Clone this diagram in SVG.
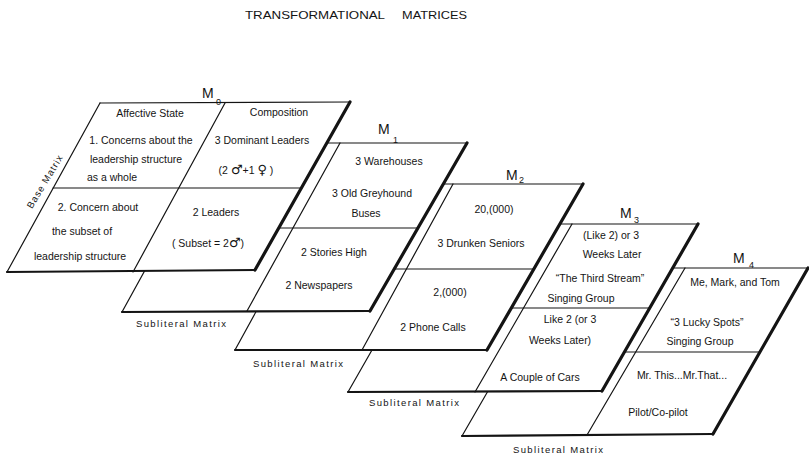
<svg xmlns="http://www.w3.org/2000/svg" width="809" height="457" viewBox="0 0 809 457">
<style>
.t{font-family:"Liberation Sans",Arial,sans-serif;font-size:10.5px;fill:#141414;text-anchor:middle}
.sym{font-family:"DejaVu Sans",sans-serif;font-size:13px}
.ml{font-family:"Liberation Sans",Arial,sans-serif;font-size:14px;fill:#141414}
.ms{font-family:"Liberation Sans",Arial,sans-serif;font-size:9px;fill:#141414}
.sub{font-family:"Liberation Sans",Arial,sans-serif;font-size:9.5px;fill:#141414;text-anchor:middle}
.face{fill:#fff;stroke:none}
.ln{stroke:#141414;stroke-width:1.2;fill:none;stroke-linecap:round}
.bt{stroke:#141414;stroke-width:2.2;fill:none;stroke-linecap:round}
.rt{stroke:#141414;stroke-width:3.2;fill:none;stroke-linecap:round}
</style>
<rect width="809" height="457" fill="#fff"/>
<text class="ml" style="font-size:11.5px" y="18.5"><tspan x="245" textLength="140" lengthAdjust="spacingAndGlyphs">TRANSFORMATIONAL</tspan><tspan x="402" textLength="65" lengthAdjust="spacingAndGlyphs">MATRICES</tspan></text>

<g id="M4">
<polygon class="face" points="559,268 808,268 713,434 462,436"/>
<line class="ln" x1="559" y1="268" x2="808" y2="268"/>
<line class="ln" x1="559" y1="268" x2="462" y2="436"/>
<line class="ln" x1="685" y1="268" x2="587" y2="435"/>
<line class="ln" x1="510" y1="352" x2="760" y2="352"/>
<line class="bt" x1="462" y1="436" x2="713" y2="434"/>
<line class="rt" x1="808" y1="268" x2="713" y2="434"/>
<text class="ml" x="733" y="263">M</text><text class="ms" x="749" y="268">4</text>
<text class="t" x="735" y="286">Me, Mark, and Tom</text>
<text class="t" x="707" y="326">“3 Lucky Spots”</text>
<text class="t" x="700" y="345">Singing Group</text>
<text class="t" x="682" y="379">Mr. This...Mr.That...</text>
<text class="t" x="658" y="416">Pilot/Co-pilot</text>
<text class="sub" x="558" y="453" textLength="90">Subliteral Matrix</text>
</g>

<g id="M3">
<polygon class="face" points="444,224 698,224 602,391 348,392"/>
<line class="ln" x1="444" y1="224" x2="698" y2="224"/>
<line class="ln" x1="444" y1="224" x2="348" y2="392"/>
<line class="ln" x1="572" y1="224" x2="475" y2="392"/>
<line class="ln" x1="396" y1="308" x2="649" y2="308"/>
<line class="bt" x1="348" y1="392" x2="602" y2="391"/>
<line class="rt" x1="698" y1="224" x2="602" y2="391"/>
<text class="ml" x="620" y="218">M</text><text class="ms" x="634" y="223">3</text>
<text class="t" x="611" y="239">(Like 2) or 3</text>
<text class="t" x="612" y="258">Weeks Later</text>
<text class="t" x="600" y="282">“The Third Stream”</text>
<text class="t" x="581" y="302">Singing Group</text>
<text class="t" x="570" y="323">Like 2 (or 3</text>
<text class="t" x="560" y="344">Weeks Later)</text>
<text class="t" x="540" y="381">A Couple of Cars</text>
<text class="sub" x="414" y="406" textLength="90">Subliteral Matrix</text>
</g>

<g id="M2">
<polygon class="face" points="326,184 583,184 487,350 235,350"/>
<line class="ln" x1="326" y1="184" x2="583" y2="184"/>
<line class="ln" x1="326" y1="184" x2="235" y2="350"/>
<line class="ln" x1="453" y1="184" x2="362" y2="350"/>
<line class="ln" x1="279" y1="269" x2="534" y2="269"/>
<line class="bt" x1="235" y1="350" x2="487" y2="350"/>
<line class="rt" x1="583" y1="184" x2="487" y2="350"/>
<text class="ml" x="506" y="180">M</text><text class="ms" x="519" y="183">2</text>
<text class="t" x="494" y="213">20,(000)</text>
<text class="t" x="481" y="247">3 Drunken Seniors</text>
<text class="t" x="450" y="296">2,(000)</text>
<text class="t" x="433" y="331">2 Phone Calls</text>
<text class="sub" x="298" y="367" textLength="90">Subliteral Matrix</text>
</g>

<g id="M1">
<polygon class="face" points="215,143 467,143 370,311 122,312"/>
<line class="ln" x1="215" y1="143" x2="467" y2="143"/>
<line class="ln" x1="215" y1="143" x2="122" y2="312"/>
<line class="ln" x1="340" y1="143" x2="247" y2="311"/>
<line class="ln" x1="168" y1="228" x2="418" y2="228"/>
<line class="bt" x1="122" y1="312" x2="370" y2="311"/>
<line class="rt" x1="467" y1="143" x2="370" y2="311"/>
<text class="ml" x="378" y="134">M</text><text class="ms" x="393" y="143">1</text>
<text class="t" x="389" y="165">3 Warehouses</text>
<text class="t" x="372" y="197">3 Old Greyhound</text>
<text class="t" x="366" y="217">Buses</text>
<text class="t" x="334" y="256">2 Stories High</text>
<text class="t" x="319" y="289">2 Newspapers</text>
<text class="sub" x="181" y="327" textLength="90">Subliteral Matrix</text>
</g>

<g id="M0">
<polygon class="face" points="100,103 350,102 255,270 7,272"/>
<line class="ln" x1="100" y1="103" x2="350" y2="102"/>
<line class="ln" x1="100" y1="103" x2="7" y2="272"/>
<line class="ln" x1="225" y1="103" x2="133" y2="272"/>
<line class="ln" x1="53" y1="188" x2="301" y2="188"/>
<line class="bt" x1="7" y1="272" x2="255" y2="270"/>
<line class="rt" x1="350" y1="102" x2="255" y2="270"/>
<text class="ml" x="202" y="98">M</text><text class="ms" x="216" y="105">0</text>
<text class="sub" transform="translate(47.5,183.5) rotate(-59)" textLength="60">Base Matrix</text>
<text class="t" x="150" y="117">Affective State</text>
<text class="t" x="141" y="144">1. Concerns about the</text>
<text class="t" x="136" y="163">leadership structure</text>
<text class="t" x="112" y="181">as a whole</text>
<text class="t" x="98" y="211">2. Concern about</text>
<text class="t" x="82" y="235">the subset of</text>
<text class="t" x="80" y="260">leadership structure</text>
<text class="t" x="279" y="116">Composition</text>
<text class="t" x="262" y="144">3 Dominant Leaders</text>
<text class="t" x="246" y="174">(2 <tspan class="sym">♂</tspan>+1  <tspan class="sym">♀</tspan> )</text>
<text class="t" x="216" y="216">2 Leaders</text>
<text class="t" x="208" y="247">( Subset = 2<tspan class="sym">♂</tspan>)</text>
</g>
</svg>
